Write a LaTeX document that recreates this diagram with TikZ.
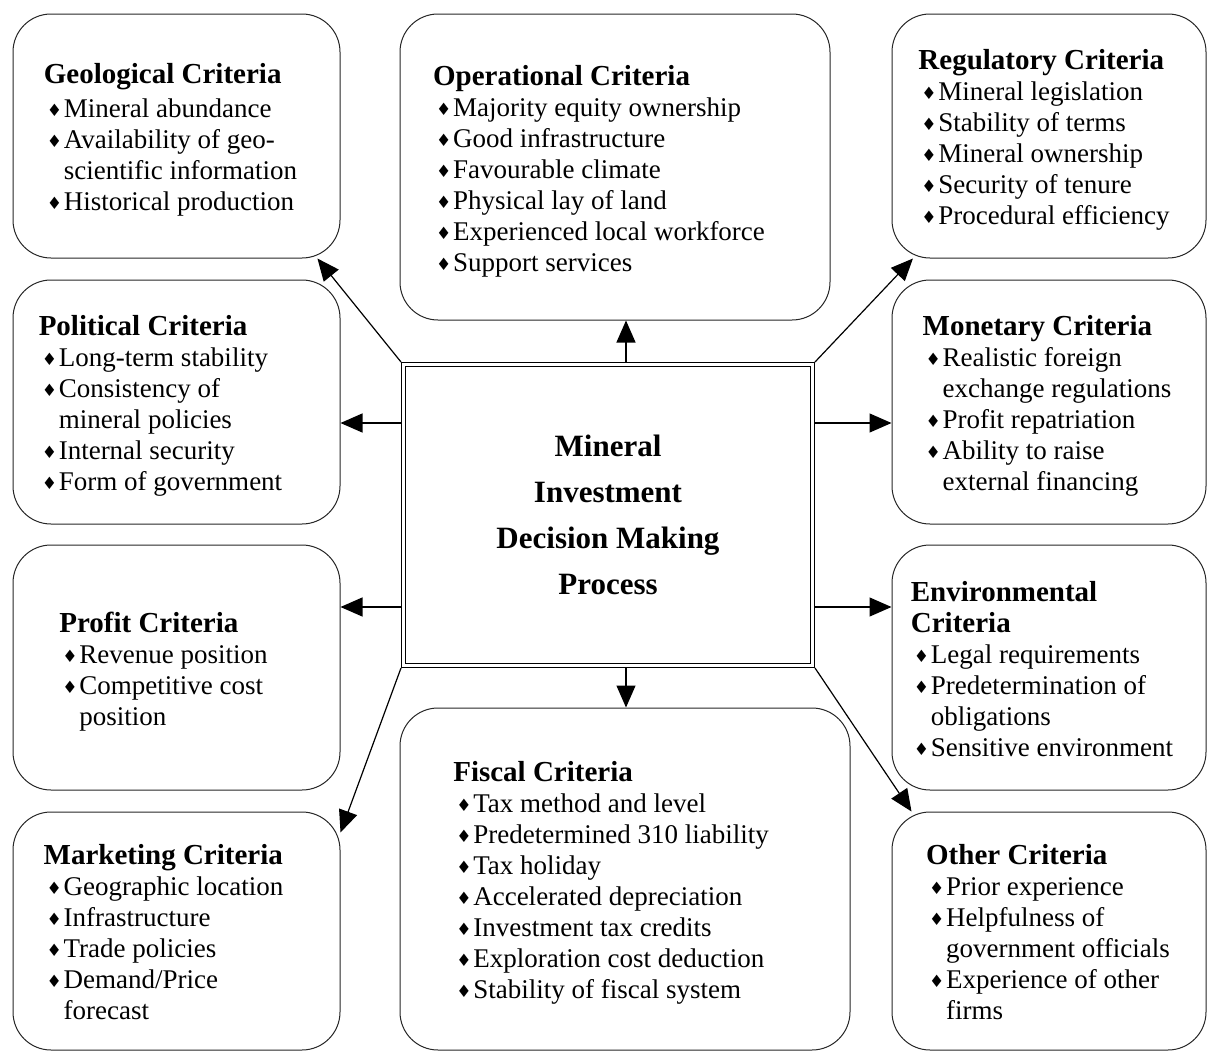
\documentclass[tikz,border=0pt]{standalone}
\usepackage{fontspec}
\setmainfont{Liberation Serif}
\newfontfamily\bulfont{DejaVu Sans}
\usetikzlibrary{arrows.meta}

\newsavebox{\critbox}
\newcommand{\crithead}[1]{\multicolumn{2}{@{}l@{}}{\fontsize{29}{31}\selectfont\bfseries #1}}
\newcommand{\critbul}{\makebox[20pt][l]{\hspace{3pt}\raisebox{1pt}{\bulfont\fontsize{17}{17}\selectfont ♦}}}
\newenvironment{critlist}[1][0pt]
  {\begin{lrbox}{\critbox}\begin{tabular}{@{}l@{}l@{\hspace{#1}}}}
  {\end{tabular}\end{lrbox}\raisebox{-5pt}[\height][\depth]{\usebox{\critbox}}}

\begin{document}
\begin{tikzpicture}[x=1pt,y=-1pt,
  crit/.style={draw=black!85,line width=1pt,rounded corners=38pt,inner sep=0pt,
    font=\fontsize{27}{31}\selectfont},
  hub/.style={draw,double,line width=1.3pt,double distance=2.4pt,outer sep=2.5pt,
    inner sep=0pt,font=\fontsize{31}{46}\selectfont\bfseries,align=center},
  arr/.style={-{Triangle[length=22pt,width=19pt]},line width=1.2pt}]
  \useasboundingbox (0,0) rectangle (1208,1052);

  \node[hub,minimum width=409pt,minimum height=301pt] (hub) at (608,515)
  {Mineral\\Investment\\Decision Making\\Process};

  \node[crit,minimum width=327pt,minimum height=244pt] (geo) at (176.5,136) {
    \begin{critlist}[12pt]
      \crithead{Geological Criteria}\\[3pt]
      \critbul & Mineral abundance\\
      \critbul & Availability of geo-\\
      & scientific information\\
      \critbul & Historical production
    \end{critlist}};
  \node[crit,minimum width=430pt,minimum height=306pt] (oper) at (615,167) {
    \begin{critlist}[32pt]
      \crithead{Operational Criteria}\\
      \critbul & Majority equity ownership\\
      \critbul & Good infrastructure\\
      \critbul & Favourable climate\\
      \critbul & Physical lay of land\\
      \critbul & Experienced local workforce\\
      \critbul & Support services
    \end{critlist}};
  \node[crit,minimum width=314pt,minimum height=244pt] (reg) at (1049,136) {
    \begin{critlist}[10pt]
      \crithead{Regulatory Criteria}\\
      \critbul & Mineral legislation\\
      \critbul & Stability of terms\\
      \critbul & Mineral ownership\\
      \critbul & Security of tenure\\
      \critbul & Procedural efficiency
    \end{critlist}};
  \node[crit,minimum width=327pt,minimum height=244pt] (pol) at (176.5,402) {
    \begin{critlist}[32pt]
      \crithead{Political Criteria}\\
      \critbul & Long-term stability\\
      \critbul & Consistency of\\
      & mineral policies\\
      \critbul & Internal security\\
      \critbul & Form of government
    \end{critlist}};
  \node[crit,minimum width=314pt,minimum height=244pt] (mon) at (1049,402) {
    \begin{critlist}[4pt]
      \crithead{Monetary Criteria}\\
      \critbul & Realistic foreign\\
      & exchange regulations\\
      \critbul & Profit repatriation\\
      \critbul & Ability to raise\\
      & external financing
    \end{critlist}};
  \node[crit,minimum width=327pt,minimum height=245pt] (prof) at (176.5,667.5) {
    \begin{critlist}[26pt]
      \crithead{Profit Criteria}\\
      \critbul & Revenue position\\
      \critbul & Competitive cost\\
      & position
    \end{critlist}};
  \node[crit,minimum width=314pt,minimum height=245pt] (env) at (1049,667.5) {
    \begin{critlist}[14pt]
      \crithead{Environmental}\\
      \crithead{Criteria}\\
      \critbul & Legal requirements\\
      \critbul & Predetermination of\\
      & obligations\\
      \critbul & Sensitive environment
    \end{critlist}};
  \node[crit,minimum width=327pt,minimum height=238pt] (mkt) at (176.5,931) {
    \begin{critlist}[26pt]
      \crithead{Marketing Criteria}\\
      \critbul & Geographic location\\
      \critbul & Infrastructure\\
      \critbul & Trade policies\\
      \critbul & Demand/Price\\
      & forecast
    \end{critlist}};
  \node[crit,minimum width=450pt,minimum height=342pt] (fis) at (625,879) {
    \begin{critlist}[28pt]
      \crithead{Fiscal Criteria}\\
      \critbul & Tax method and level\\
      \critbul & Predetermined 310 liability\\
      \critbul & Tax holiday\\
      \critbul & Accelerated depreciation\\
      \critbul & Investment tax credits\\
      \critbul & Exploration cost deduction\\
      \critbul & Stability of fiscal system
    \end{critlist}};
  \node[crit,minimum width=314pt,minimum height=238pt] (oth) at (1049,931) {
    \begin{critlist}[2pt]
      \crithead{Other Criteria}\\
      \critbul & Prior experience\\
      \critbul & Helpfulness of\\
      & government officials\\
      \critbul & Experience of other\\
      & firms
    \end{critlist}};

  \draw[arr] (hub.north west) -- (geo.-41);
  \draw[arr] ([xshift=18pt]hub.north) -- ([xshift=18pt]hub.north |- oper.south);
  \draw[arr] (hub.north east) -- (reg.-138);
  \draw[arr] ([yshift=92pt]hub.west) -- ([yshift=92pt]hub.west -| pol.east);
  \draw[arr] ([yshift=92pt]hub.east) -- ([yshift=92pt]hub.east -| mon.west);
  \draw[arr] ([yshift=-92pt]hub.west) -- ([yshift=-92pt]hub.west -| prof.east);
  \draw[arr] ([yshift=-92pt]hub.east) -- ([yshift=-92pt]hub.east -| env.west);
  \draw[arr] (hub.south west) -- (mkt.31);
  \draw[arr] ([xshift=18pt]hub.south) -- ([xshift=18pt]hub.south |- fis.north);
  \draw[arr] (hub.south east) -- (oth.139);
\end{tikzpicture}
\end{document}
